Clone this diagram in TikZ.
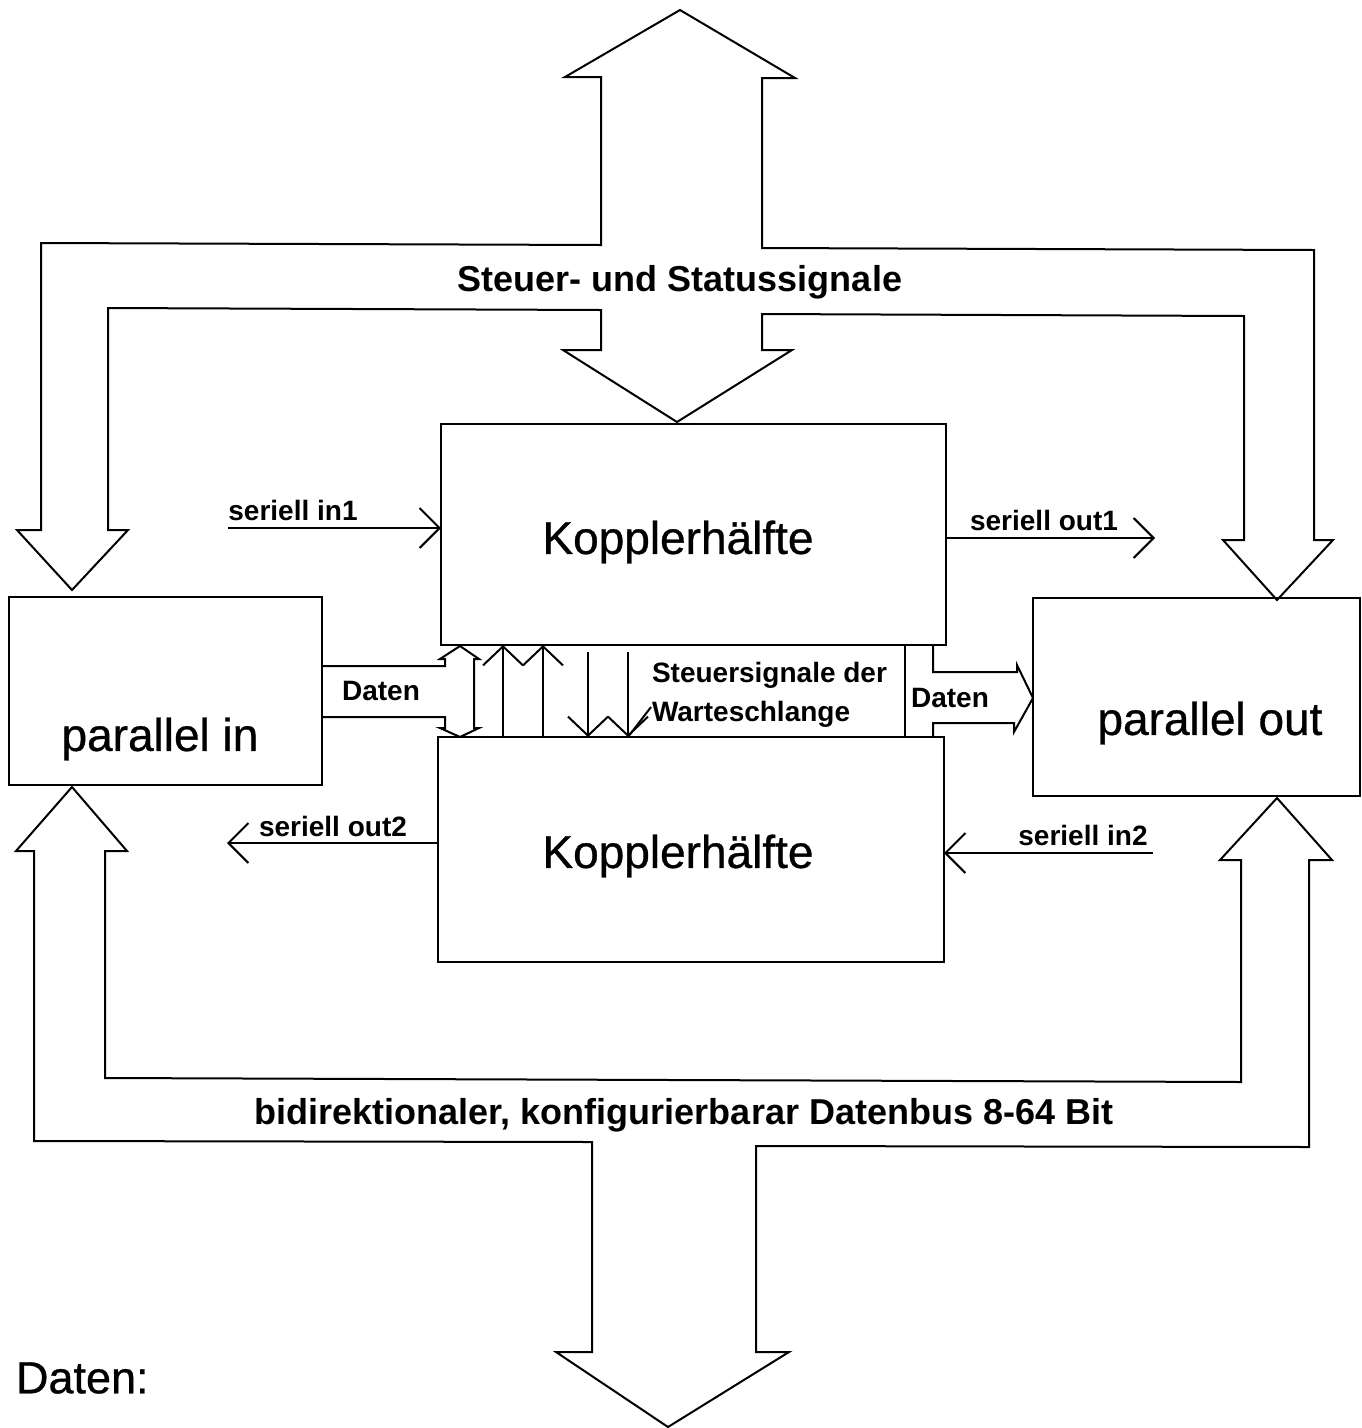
\documentclass[tikz,border=0pt]{standalone}
\usepackage{fontspec}
\setmainfont{Liberation Sans}
\newfontfamily\medfont[FakeBold=0.7]{Liberation Sans}
\usetikzlibrary{arrows.meta}
\begin{document}
\begin{tikzpicture}[x=1pt,y=-1pt, line width=2pt, line join=miter,
  box/.style={draw, inner sep=0pt, outer sep=0pt},
  bigtext/.style={font=\medfont\fontsize{46}{50}\selectfont, inner sep=0pt},
  bustext/.style={font=\fontsize{36}{40}\selectfont\bfseries, inner sep=0pt},
  lbl/.style={font=\fontsize{28}{32}\selectfont\bfseries, inner sep=0pt},
  sig/.style={-{Straight Barb[length=20pt,width=40pt]}},
  qsig/.style={-{Straight Barb[length=19pt,width=40pt]}},
  ]
\useasboundingbox (0,0) rectangle (1362,1428);

% functional blocks
\node[box, minimum width=505pt, minimum height=221pt] (k1) at (693.5,534.5) {};
\node[box, minimum width=506pt, minimum height=225pt] (k2) at (691,849.5) {};
\node[box, minimum width=313pt, minimum height=188pt] (pin) at (165.5,691) {};
\node[box, minimum width=327pt, minimum height=198pt] (pout) at (1196.5,697) {};

\node[bigtext] (k1t) at (678,542) {Kopplerhälfte};
\node[bigtext] (k2t) at (678,856) {Kopplerhälfte};
\node[bigtext] (pint) at (160,739) {parallel in};
\node[bigtext] (poutt) at (1210,723) {parallel out};

% control and status bus (top)
\draw (680,10) -- (795,78) -- (762,78) -- (762,248) -- (1314,250) -- (1314,540)
  -- (1333,540) -- (1277,600) -- (1223,540) -- (1244,540) -- (1244,316)
  -- (762,314) -- (762,350) -- (792,350) -- (677,422) -- (563,350) -- (601,350)
  -- (601,310) -- (108,308) -- (108,530) -- (128,530) -- (72,590) -- (17,530)
  -- (41,530) -- (41,243) -- (601,245) -- (601,77) -- (565,77) -- cycle;
\node[bustext] (ctl) at (680,282) {Steuer- und Statussignale};

% data bus (bottom)
\draw (72,787) -- (127,851) -- (105,851) -- (105,1078) -- (1241,1082)
  -- (1241,860) -- (1220,860) -- (1277,798) -- (1332,860) -- (1309,860)
  -- (1309,1147) -- (756,1146) -- (756,1352) -- (789,1352) -- (668,1427)
  -- (556,1352) -- (592,1352) -- (592,1142) -- (34,1141) -- (34,851)
  -- (16,851) -- cycle;
\node[bustext] (dbus) at (684,1115) {bidirektionaler, konfigurierbarar Datenbus 8-64 Bit};

% serial lines
\coordinate (si1) at (228,528);
\draw[sig] (si1) -- (si1 -| k1.west);
\node[lbl] (si1t) at (293,510) {seriell in1};
\coordinate (so1) at (1155,538);
\draw[sig] (k1.east |- so1) -- (so1);
\node[lbl] (so1t) at (1044,520) {seriell out1};
\coordinate (so2) at (227,843);
\draw[sig] (k2.west |- so2) -- (so2);
\node[lbl] (so2t) at (333,826) {seriell out2};
\coordinate (si2) at (1153,853);
\draw[sig] (si2) -- (si2 -| k2.east);
\node[lbl] (si2t) at (1083,835) {seriell in2};

% parallel data into the coupler halves
\draw (pin.east |- 0,666) -- (445,666) -- (445,659) -- (440,659) -- (460,646)
  -- (479,659) -- (474,659) -- (474,728) -- (479,728) -- (460,737)
  -- (440,728) -- (445,728) -- (445,717) -- (pin.east |- 0,717);
\node[lbl] (dl) at (381,691) {Daten};

% queue control signals
\coordinate (ua) at (503,737);
\coordinate (ub) at (543,737);
\draw[qsig] (ua) -- (ua |- k1.south);
\draw[qsig] (ub) -- (ub |- k1.south);
\coordinate (da) at (588,652);
\coordinate (db) at (628,652);
\draw[qsig] (da) -- (da |- k2.north);
\draw[qsig] (db) -- (db |- k2.north);
\draw (db |- k2.north) -- (651,707);
\node[lbl, anchor=west] (ssd) at (651,675) {Steuersignale der};
\node[lbl, anchor=west] (ws) at (651,714) {Warteschlange};

% separator and parallel data out
\coordinate (sep) at (905,645);
\draw (sep) -- (sep |- k2.north);
\draw (933,645) -- (933,672) -- (1017,672) -- (1017,665) -- (pout.west |- 0,698)
  -- (1014,732) -- (1014,723) -- (933,723) -- (933,737);
\node[lbl] (dr) at (950,698) {Daten};

\node[font=\medfont\fontsize{45}{50}\selectfont, anchor=west, inner sep=0pt] (dat) at (15,1378) {Daten:};
\end{tikzpicture}
\end{document}
